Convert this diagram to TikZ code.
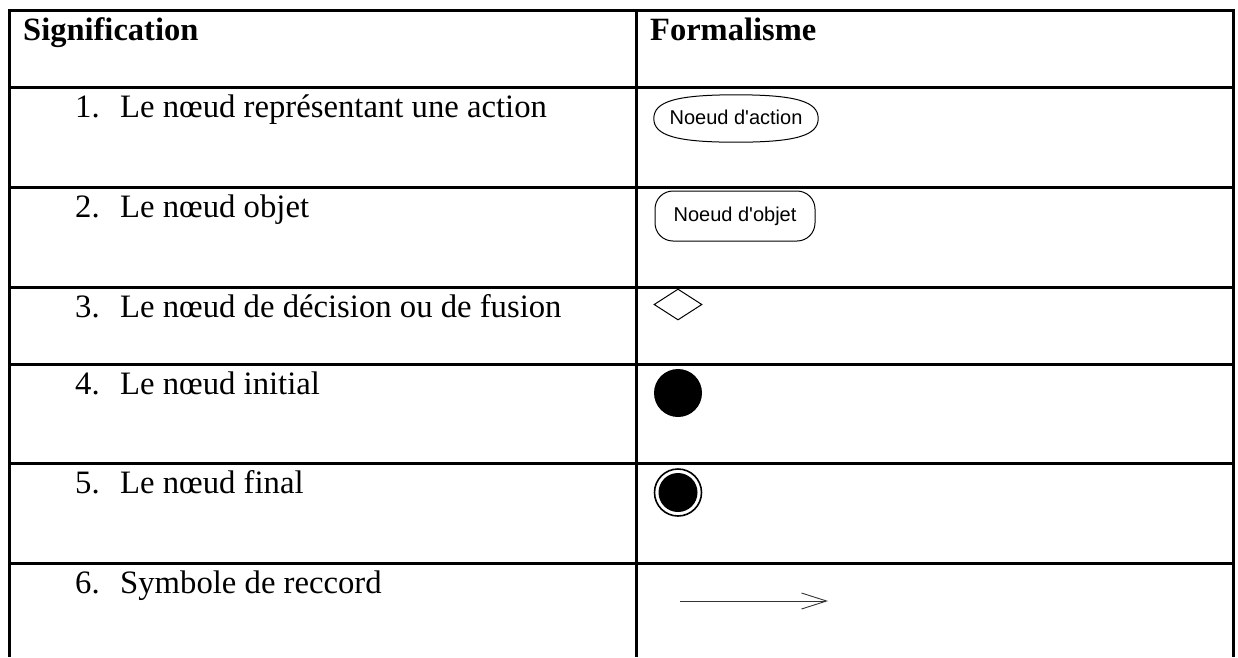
\documentclass[tikz,border=0pt]{standalone}
\usepackage{fontspec}
\setmainfont{Liberation Serif}
\newfontfamily\umlfont{Liberation Sans}
\usetikzlibrary{shapes.geometric,arrows.meta,calc}
\begin{document}
\begin{tikzpicture}[x=1pt,y=-1pt,
  rule/.style={line width=3pt, line cap=rect},
  cell/.style={anchor=base west, inner sep=0pt, font=\fontsize{32.7}{38}\selectfont},
  head/.style={cell, font=\fontsize{32.5}{38}\selectfont\bfseries},
  umllabel/.style={font=\umlfont\fontsize{20}{23}\selectfont, inner sep=0pt},
  actionnode/.style={rectangle, minimum width=164pt, minimum height=47pt, umllabel},
  objectnode/.style={rounded corners=18pt, draw, line width=1pt, minimum width=160pt, minimum height=50pt, umllabel},
  decisionnode/.style={diamond, draw, line width=1pt, minimum width=48pt, minimum height=31pt, inner sep=0pt},
  initialnode/.style={circle, fill=black, minimum size=48pt, inner sep=0pt},
]
\useasboundingbox (0,0) rectangle (1238,657);

% table grid
\foreach \yy in {10,87,187,287,364,463,563}
  \draw[rule] (9,\yy) -- (1233,\yy);
\draw[line width=3pt] (9,10) -- (9,657);
\draw[line width=3pt] (636,10) -- (636,657);
\draw[line width=3pt] (1233,10) -- (1233,657);

% header
\node[head] (h1) at (23,40) {Signification};
\node[head] (h2) at (650,40) {Formalisme};

% left column
\node[cell] (n1) at (75,117) {1.};
\node[cell] (t1) at (120,117) {Le nœud représentant une action};
\node[cell] (n2) at (75,217) {2.};
\node[cell] (t2) at (120,217) {Le nœud objet};
\node[cell] (n3) at (75,317) {3.};
\node[cell] (t3) at (120,317) {Le nœud de décision ou de fusion};
\node[cell] (n4) at (75,394) {4.};
\node[cell] (t4) at (120,394) {Le nœud initial};
\node[cell] (n5) at (75,493) {5.};
\node[cell] (t5) at (120,493) {Le nœud final};
\node[cell] (n6) at (75,593) {6.};
\node[cell] (t6) at (120,593) {Symbole de reccord};

% right column: notation
% action node: a blunt oval drawn round its label
\node[actionnode] (act) at (736,118.5) {\makebox[0pt]{\raisebox{2pt}{Noeud d'action}}};
\draw[line width=1pt]
  (act.west) .. controls ($(act.west)+(0,-17)$) and ($(act.north)+(-60,0)$) .. (act.north)
  .. controls ($(act.north)+(60,0)$) and ($(act.east)+(0,-17)$) .. (act.east)
  .. controls ($(act.east)+(0,17)$) and ($(act.south)+(60,0)$) .. (act.south)
  .. controls ($(act.south)+(-60,0)$) and ($(act.west)+(0,17)$) .. (act.west) -- cycle;
\node[objectnode] (obj) at (735,216) {\makebox[0pt]{Noeud d'objet}};
\node[decisionnode] (dec) at (678,304.5) {};
\node[initialnode] (ini) at (678,393) {};
\node[circle, draw, line width=1.6pt, minimum size=47pt, inner sep=0pt] (fin) at (678,492.5) {};
\node[circle, fill=black, minimum size=39pt, inner sep=0pt] (finin) at (fin.center) {};

\coordinate (r0) at (680,601);
\coordinate (r1) at (828,601);
\draw[line width=0.9pt, black!80, -{Straight Barb[length=25pt,width=16pt,line width=0.9pt]}] (r0) -- (r1);
\end{tikzpicture}
\end{document}
